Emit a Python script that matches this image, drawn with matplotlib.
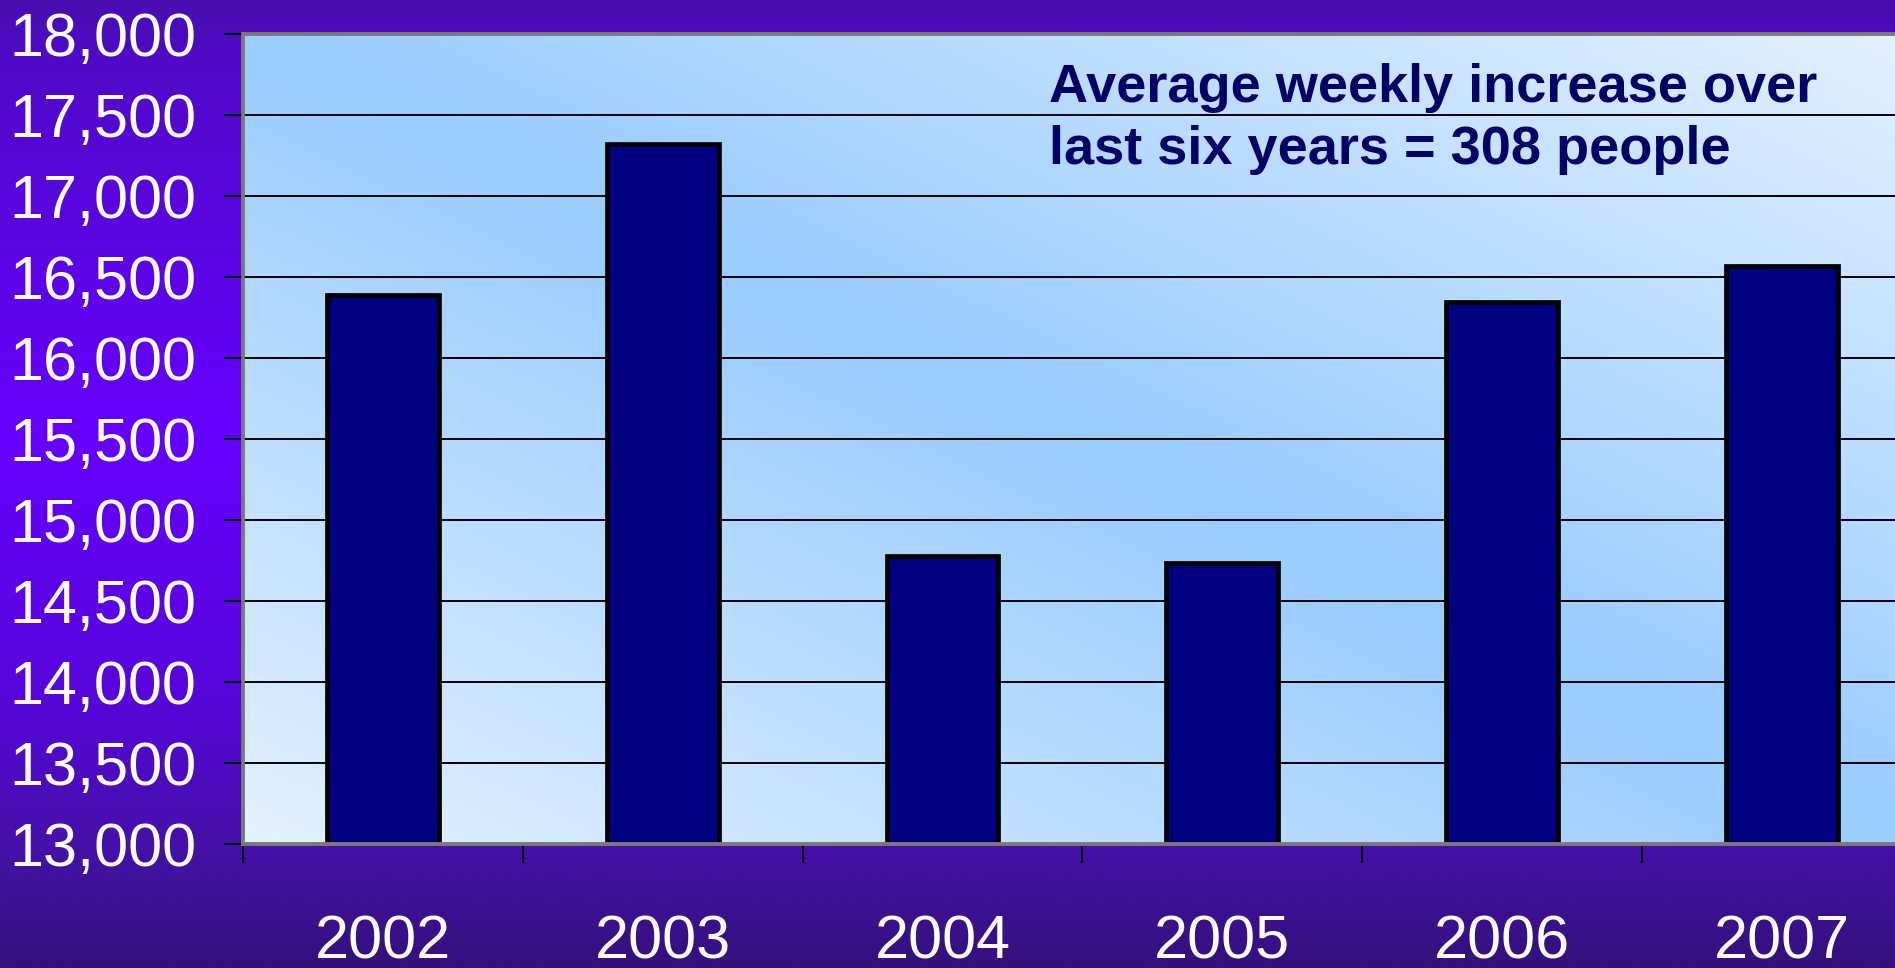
import matplotlib
matplotlib.use('Agg')
import matplotlib.pyplot as plt
import numpy as np

plt.rcParams['font.family'] = ['Liberation Sans', 'DejaVu Sans']

# ---- data ----
years = ['2002', '2003', '2004', '2005', '2006', '2007']
values = [16390, 17320, 14775, 14730, 16345, 16570]
y_ticks = [13000, 13500, 14000, 14500, 15000, 15500, 16000, 16500, 17000, 17500, 18000]
note = "Average weekly increase over\nlast six years = 308 people"

W, H = 1895, 968
fig = plt.figure(figsize=(W / 100, H / 100), dpi=100)

# ---- purple slide background (vertical gradient) ----
stops = np.array([0.0, 0.06, 0.45, 0.72, 0.87, 1.0])
cols = np.array([
    [72, 14, 176],
    [80, 10, 200],
    [102, 0, 255],
    [86, 6, 218],
    [70, 16, 170],
    [52, 16, 124],
]) / 255.0
yy = np.linspace(0, 1, 400)
grad = np.stack([np.interp(yy, stops, cols[:, i]) for i in range(3)], axis=-1)
grad = np.repeat(grad[:, None, :], 4, axis=1)
bg = fig.add_axes([0, 0, 1, 1], zorder=-10)
bg.imshow(grad, aspect='auto', extent=[0, 1, 0, 1], origin='upper', interpolation='bilinear')
bg.set_xlim(0, 1)
bg.set_ylim(0, 1)
bg.axis('off')

# ---- plot axes ----
left_px, right_px, top_px, bot_px = 243, 1921.8, 34, 843.5
ax = fig.add_axes([left_px / W, (H - bot_px) / H, (right_px - left_px) / W, (bot_px - top_px) / H])
ax.patch.set_visible(False)

x = np.arange(len(years))
xmin, xmax = -0.5, len(years) - 0.5
ymin, ymax = y_ticks[0], y_ticks[-1]

# plot-area diagonal gradient (blue along TL->BR diagonal, light at other corners)
nu, nv = 300, 200
u = np.linspace(0, 1, nu)[None, :]
v = np.linspace(0, 1, nv)[:, None]
t = np.clip(np.abs(u - v), 0, 1)
blue = np.array([153, 204, 255]) / 255.0
light = np.array([228, 241, 255]) / 255.0
pa = blue[None, None, :] * (1 - t[..., None]) + light[None, None, :] * t[..., None]
ax.imshow(pa, aspect='auto', extent=(xmin, xmax, ymin, ymax), origin='upper',
          interpolation='bilinear', zorder=0)

ax.set_axisbelow(True)
ax.yaxis.grid(True, color='black', linewidth=1.4)
ax.xaxis.grid(False)

ax.bar(x, np.array(values) - ymin, bottom=ymin, width=0.4, color='#000080',
       edgecolor='black', linewidth=3.4, zorder=2)

ax.set_xlim(xmin, xmax)
ax.set_ylim(ymin, ymax)

ax.set_yticks(y_ticks)
ax.set_yticklabels([f"{v:,}" for v in y_ticks])
ax.tick_params(axis='y', which='major', direction='out', length=13.7, width=1.5,
               color='black', labelcolor='white', labelsize=44, pad=20)

ax.set_xticks(x)
ax.set_xticklabels(years)
ax.set_xticks(np.arange(xmin, xmax + 0.01, 1.0), minor=True)
ax.tick_params(axis='x', which='major', length=0, labelcolor='white', labelsize=44, pad=51)
ax.tick_params(axis='x', which='minor', direction='out', length=13.7, width=1.5, color='black')

for s in ['left', 'top', 'bottom']:
    ax.spines[s].set_color('#7a7a7a')
    ax.spines[s].set_linewidth(2.8)
ax.spines['right'].set_visible(False)

fig.text(1049 / W, 1 - 63 / H, note, ha='left', va='top', fontsize=39,
         fontweight='bold', color='#000066', linespacing=1.3)

fig.savefig('out.png', dpi=100)
